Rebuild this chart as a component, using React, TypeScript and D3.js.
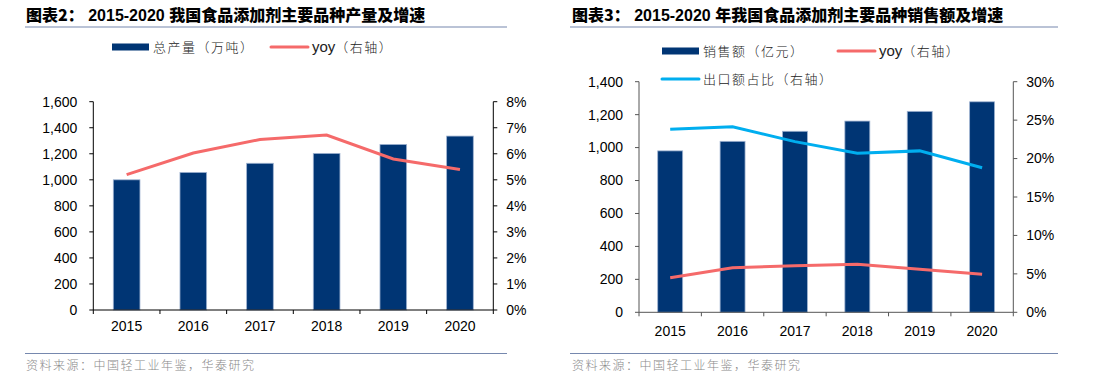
import React from "react";
import * as d3 from "d3";

const years = ["2015", "2016", "2017", "2018", "2019", "2020"];

// 图表2
const outputTons = [1000, 1057, 1127, 1203, 1272, 1336];
const outputYoy = [5.2, 6.03, 6.55, 6.72, 5.8, 5.4];
const leftTicks1 = [0, 200, 400, 600, 800, 1000, 1200, 1400, 1600];
const rightTicks1 = [0, 1, 2, 3, 4, 5, 6, 7, 8];

// 图表3
const salesValue = [980, 1038, 1099, 1161, 1220, 1278];
const salesYoy = [4.5, 5.8, 6.06, 6.24, 5.6, 4.94];
const exportShare = [23.8, 24.15, 22.2, 20.7, 21.0, 18.8];
const leftTicks2 = [0, 200, 400, 600, 800, 1000, 1200, 1400];
const rightTicks2 = [0, 5, 10, 15, 20, 25, 30];

const NAVY = "#003574";
const RED = "#F56A6A";
const BLUE = "#00AEEF";
const RULE = "#7688AE";
const LATIN = "'Liberation Sans', Arial, sans-serif";
const CJK = "'Noto Sans CJK SC', sans-serif";

interface LineSeries {
  values: number[];
  color: string;
}

interface PanelProps {
  x0: number;
  x1: number;
  top: number;
  bottom: number;
  bars: number[];
  leftTicks: number[];
  rightTicks: number[];
  lines: LineSeries[];
  axisColor: string;
  labelY: number;
}

function Panel({ x0, x1, top, bottom, bars, leftTicks, rightTicks, lines, axisColor, labelY }: PanelProps) {
  const x = d3.scaleBand<string>().domain(years).range([x0, x1]);
  const yL = d3.scaleLinear().domain([0, leftTicks[leftTicks.length - 1]]).range([bottom, top]);
  const yR = d3.scaleLinear().domain([0, rightTicks[rightTicks.length - 1]]).range([bottom, top]);
  const bw = x.bandwidth() * 0.4;
  const fmt = d3.format(",");
  const line = d3
    .line<number>()
    .x((_, i) => (x(years[i]) as number) + x.bandwidth() / 2)
    .y((d) => yR(d));
  const bounds = [...years.map((y) => x(y) as number), x1];

  return (
    <g>
      {bars.map((v, i) => (
        <rect
          key={years[i]}
          x={(x(years[i]) as number) + x.bandwidth() / 2 - bw / 2}
          y={yL(v)}
          width={bw}
          height={bottom - yL(v)}
          fill={NAVY}
          stroke="#9fb3d1"
          strokeWidth={0.8}
        />
      ))}
      {lines.map((l, i) => (
        <path key={i} d={line(l.values) ?? ""} fill="none" stroke={l.color} strokeWidth={3} />
      ))}
      {/* axes */}
      <line x1={x0} x2={x0} y1={top} y2={bottom} stroke={axisColor} />
      <line x1={x1} x2={x1} y1={top} y2={bottom} stroke={axisColor} />
      <line x1={x0} x2={x1} y1={bottom} y2={bottom} stroke={axisColor} />
      {leftTicks.map((t) => (
        <g key={"l" + t}>
          <line x1={x0 - 4} x2={x0} y1={yL(t)} y2={yL(t)} stroke={axisColor} />
          <text x={x0 - 16} y={yL(t)} dy="0.35em" textAnchor="end" fontFamily={LATIN} fontSize={14} fill="#000">
            {fmt(t)}
          </text>
        </g>
      ))}
      {rightTicks.map((t) => (
        <g key={"r" + t}>
          <line x1={x1} x2={x1 + 4} y1={yR(t)} y2={yR(t)} stroke={axisColor} />
          <text x={x1 + 13} y={yR(t)} dy="0.35em" fontFamily={LATIN} fontSize={14} fill="#000">
            {t + "%"}
          </text>
        </g>
      ))}
      {bounds.map((b) => (
        <line key={"b" + b} x1={b} x2={b} y1={bottom} y2={bottom + 4} stroke={axisColor} />
      ))}
      {years.map((y) => (
        <text
          key={"x" + y}
          x={(x(y) as number) + x.bandwidth() / 2}
          y={labelY}
          textAnchor="middle"
          fontFamily={LATIN}
          fontSize={14}
          fill="#000"
        >
          {y}
        </text>
      ))}
    </g>
  );
}

function LegendItem({ x, y, kind, color, cjk, latin }: { x: number; y: number; kind: "bar" | "line"; color: string; cjk: string; latin?: string }) {
  return (
    <g>
      {kind === "bar" ? (
        <rect x={x} y={y - 3.5} width={37} height={7} fill={color} />
      ) : (
        <line x1={x} x2={x + 37} y1={y} y2={y} stroke={color} strokeWidth={3} strokeLinecap="round" />
      )}
      <text x={x + 41} y={y} dy="0.36em" fontSize={13} fill="#222">
        {latin && (
          <tspan fontFamily={LATIN} fontSize={15}>
            {latin}
          </tspan>
        )}
        <tspan fontFamily={CJK} fontWeight={300} letterSpacing={1.5}>
          {cjk}
        </tspan>
      </text>
    </g>
  );
}

export default function App() {
  return (
    <svg width={1108} height={391} style={{ position: "absolute", left: 0, top: 0, background: "#fff" }}>
      {/* left panel */}
      <text x={26} y={21} fontSize={16} fontWeight="bold" fill="#000">
        <tspan fontFamily={CJK} fontWeight={900}>图表2：</tspan>
        <tspan fontFamily={LATIN} fontWeight="bold"> 2015-2020 </tspan>
        <tspan fontFamily={CJK} fontWeight={900}>我国食品添加剂主要品种产量及增速</tspan>
      </text>
      <line x1={25} x2={507} y1={27} y2={27} stroke={RULE} strokeWidth={1.2} />
      <LegendItem x={112} y={47} kind="bar" color={NAVY} cjk="总产量（万吨）" />
      <LegendItem x={271} y={47} kind="line" color={RED} latin="yoy" cjk="（右轴）" />
      <Panel
        x0={93.3}
        x1={493.3}
        top={101.7}
        bottom={310}
        bars={outputTons}
        leftTicks={leftTicks1}
        rightTicks={rightTicks1}
        lines={[{ values: outputYoy, color: RED }]}
        axisColor="#000"
        labelY={331}
      />
      <line x1={25} x2={507} y1={353.5} y2={353.5} stroke={RULE} strokeWidth={1.2} />
      <text x={26} y={370} fontFamily={CJK} fontSize={12} fontWeight={300} fill="#8a8a8a" letterSpacing={1.5}>
        资料来源：中国轻工业年鉴，华泰研究
      </text>

      {/* right panel */}
      <text x={572} y={21} fontSize={16} fontWeight="bold" fill="#000">
        <tspan fontFamily={CJK} fontWeight={900}>图表3：</tspan>
        <tspan fontFamily={LATIN} fontWeight="bold"> 2015-2020 </tspan>
        <tspan fontFamily={CJK} fontWeight={900}>年我国食品添加剂主要品种销售额及增速</tspan>
      </text>
      <line x1={570} x2={1058} y1={27} y2={27} stroke={RULE} strokeWidth={1.2} />
      <LegendItem x={662} y={51} kind="bar" color={NAVY} cjk="销售额（亿元）" />
      <LegendItem x={838} y={51} kind="line" color={RED} latin="yoy" cjk="（右轴）" />
      <LegendItem x={662} y={79} kind="line" color={BLUE} cjk="出口额占比（右轴）" />
      <Panel
        x0={639}
        x1={1013.3}
        top={81.7}
        bottom={312.3}
        bars={salesValue}
        leftTicks={leftTicks2}
        rightTicks={rightTicks2}
        lines={[
          { values: salesYoy, color: RED },
          { values: exportShare, color: BLUE },
        ]}
        axisColor="#555"
        labelY={336}
      />
      <line x1={570} x2={1058} y1={353.5} y2={353.5} stroke={RULE} strokeWidth={1.2} />
      <text x={572} y={370} fontFamily={CJK} fontSize={12} fontWeight={300} fill="#8a8a8a" letterSpacing={1.5}>
        资料来源：中国轻工业年鉴，华泰研究
      </text>
    </svg>
  );
}
